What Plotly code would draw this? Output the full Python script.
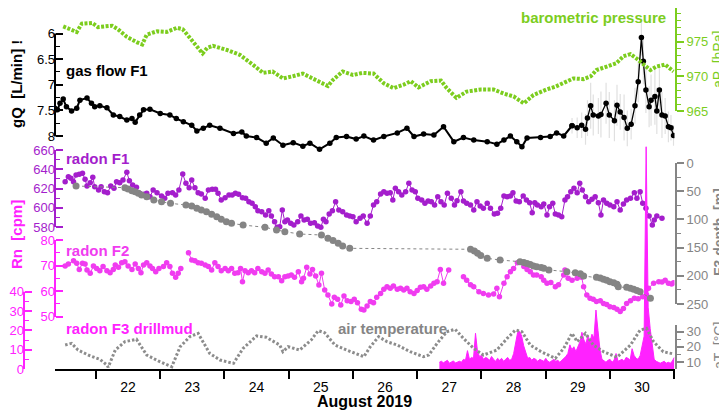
import numpy as np
import plotly.graph_objects as go

# time is given as day of August 2019 (fractional)
baro_t = [21.49, 21.70, 21.78, 21.94, 22.03, 22.25, 22.34, 22.48, 22.64, 22.72,
          22.79, 22.95, 23.10, 23.26, 23.35, 23.49, 23.66, 23.73, 23.82, 24.04,
          24.24, 24.44, 24.60, 24.75, 24.91, 25.06, 25.22, 25.37, 25.61, 25.69,
          25.84, 26.00, 26.15, 26.32, 26.48, 26.63, 26.79, 26.90, 27.02, 27.21,
          27.37, 27.46, 27.61, 27.77, 27.99, 28.19, 28.35, 28.50, 28.66, 28.81,
          29.01, 29.15, 29.28, 29.43, 29.59, 29.70, 29.79, 30.01, 30.10, 30.21,
          30.32, 30.41, 30.55, 30.63, 30.72, 30.86, 30.99]
baro_hpa = [977.2, 976.4, 977.6, 977.7, 977.1, 977.3, 976.8, 975.7, 974.9, 974.6,
            976.0, 976.5, 976.4, 977.0, 976.8, 975.3, 973.3, 974.1, 974.4, 973.8,
            973.1, 971.7, 970.5, 970.7, 969.7, 970.0, 970.4, 969.7, 968.6, 969.5,
            970.7, 970.2, 970.5, 970.4, 969.0, 968.3, 968.8, 969.3, 968.4, 969.3,
            969.4, 968.3, 966.9, 967.8, 968.1, 968.1, 967.5, 967.1, 966.1, 967.3,
            968.1, 968.5, 969.1, 969.7, 969.6, 970.0, 970.9, 971.7, 971.9, 972.9,
            973.2, 972.6, 971.4, 970.9, 971.4, 971.7, 970.7]

# gas flow: steady part (dense readings) and the unsteady last days
gas_t = [21.36, 21.40, 21.44, 21.49, 21.54, 21.62, 21.70, 21.75, 21.86, 21.93,
         21.98, 22.06, 22.17, 22.27, 22.37, 22.48, 22.56, 22.61, 22.68, 22.74,
         22.84, 23.00, 23.15, 23.25, 23.36, 23.49, 23.57, 23.67, 23.77, 23.93,
         24.14, 24.27, 24.34, 24.50, 24.65, 24.76, 24.91, 25.07, 25.22, 25.33,
         25.48, 25.64, 25.74, 25.90, 26.05, 26.17, 26.32, 26.48, 26.69, 26.84,
         26.95, 27.10, 27.26, 27.41, 27.57, 27.72, 27.88, 28.09, 28.24, 28.35,
         28.45, 28.55, 28.63, 28.71, 28.92, 29.07, 29.17, 29.28,
         29.41, 29.49, 29.56, 29.62, 29.65, 29.70, 29.74, 29.82, 29.86, 29.94,
         29.99, 30.07, 30.11, 30.16, 30.22, 30.27, 30.33, 30.39, 30.44, 30.49,
         30.52, 30.56, 30.61, 30.64, 30.70, 30.73, 30.77, 30.81, 30.86, 30.91,
         30.95, 30.99]
gas_lpm = [7.46, 7.49, 7.36, 7.28, 7.43, 7.51, 7.46, 7.30, 7.26, 7.36,
           7.43, 7.41, 7.45, 7.59, 7.62, 7.69, 7.66, 7.73, 7.59, 7.49,
           7.48, 7.56, 7.59, 7.66, 7.72, 7.79, 7.90, 7.85, 7.79, 7.85,
           7.95, 7.92, 8.00, 8.03, 8.14, 8.04, 8.18, 8.13, 8.20, 8.14,
           8.26, 8.14, 8.03, 8.01, 8.06, 8.00, 8.08, 8.01, 7.94, 7.85,
           8.01, 7.96, 7.98, 7.82, 8.11, 8.03, 8.08, 8.11, 8.16, 8.08,
           8.00, 8.11, 8.21, 8.04, 8.03, 8.01, 7.94, 8.00,
           7.80, 7.84, 7.79, 7.87, 7.65, 7.41, 7.59, 7.61, 7.58, 7.36,
           7.59, 7.70, 7.40, 7.53, 7.64, 7.85, 7.77, 7.41, 6.94, 6.08,
           6.54, 7.10, 7.43, 7.30, 7.23, 7.51, 7.10, 7.59, 7.61, 7.82,
           7.84, 7.99]
gas_steady_n = 68  # readings before Aug 29 10:00
# spread (min/max) of the gas flow for the last, unsteady days
gas_spread_late = [0.15, 0.20, 0.25, 0.30, 0.35, 0.45, 0.40, 0.35, 0.45, 0.40,
                   0.45, 0.40, 0.40, 0.35, 0.45, 0.35, 0.30, 0.35, 0.40, 0.35,
                   0.45, 0.45, 0.40, 0.50, 0.55, 0.45, 0.50, 0.45, 0.35, 0.30,
                   0.25, 0.20]

rn1_t = [21.52, 21.57, 21.61, 21.65, 21.69, 21.74, 21.79, 21.83, 21.86, 21.91,
         21.95, 21.98, 22.04, 22.08, 22.13, 22.18, 22.23, 22.28, 22.32, 22.37,
         22.42, 22.48, 22.52, 22.57, 22.63, 22.68, 22.75, 22.79, 22.84, 22.89,
         22.95, 23.02, 23.07, 23.12, 23.19, 23.24, 23.29, 23.35, 23.40, 23.45,
         23.49, 23.54, 23.59, 23.64, 23.70, 23.75, 23.81, 23.86, 23.90, 23.95,
         24.01, 24.07, 24.12, 24.17, 24.22, 24.28, 24.33, 24.38, 24.43, 24.48,
         24.52, 24.58, 24.64, 24.69, 24.73, 24.78, 24.82, 24.86, 24.90, 24.94,
         24.98, 25.03, 25.08, 25.14, 25.19, 25.24, 25.29, 25.34, 25.40, 25.45,
         25.50, 25.54, 25.58, 25.63, 25.68, 25.73, 25.78, 25.84, 25.90, 25.95,
         26.00, 26.05, 26.11, 26.16, 26.22, 26.27, 26.32, 26.37, 26.43, 26.48,
         26.53, 26.58, 26.62, 26.66, 26.71, 26.76, 26.82, 26.87, 26.92, 26.97,
         27.01, 27.07, 27.12, 27.17, 27.22, 27.27, 27.32, 27.37, 27.42, 27.47,
         27.53, 27.58, 27.62, 27.68, 27.72, 27.77, 27.83, 27.88, 27.93, 27.98,
         28.03, 28.09, 28.14, 28.20, 28.25, 28.30, 28.35, 28.40, 28.45, 28.49,
         28.54, 28.59, 28.65, 28.70, 28.75, 28.79, 28.83, 28.87, 28.93, 28.97,
         29.02, 29.06, 29.11, 29.15, 29.20, 29.25, 29.30, 29.34, 29.39, 29.44,
         29.49, 29.53, 29.57, 29.62, 29.67, 29.72, 29.77, 29.82, 29.86, 29.90,
         29.95, 30.00, 30.06, 30.11, 30.16, 30.21, 30.26, 30.32, 30.38, 30.42,
         30.47, 30.51, 30.56, 30.61, 30.66, 30.69, 30.73, 30.81]
rn1_cpm = [627.1, 632.3, 630.6, 627.1, 634.0, 634.7, 635.8, 629.5, 622.6, 626.0,
           631.6, 621.9, 618.4, 621.9, 616.7, 615.6, 622.6, 620.2, 627.1, 626.0,
           628.8, 636.8, 628.1, 623.6, 621.2, 615.0, 614.0, 615.0, 611.5, 618.4,
           615.6, 612.2, 609.8, 615.0, 615.6, 613.2, 618.4, 635.1, 625.4, 620.8,
           628.8, 620.8, 615.6, 614.3, 609.8, 618.4, 619.2, 619.2, 615.0, 608.1,
           610.4, 613.2, 613.2, 615.0, 614.0, 610.4, 609.8, 606.3, 604.6, 601.1,
           596.9, 595.9, 592.5, 596.9, 591.4, 585.5, 579.7, 580.3, 597.7, 585.5,
           587.3, 583.8, 582.1, 585.5, 591.4, 587.3, 588.0, 583.8, 584.5, 581.0,
           579.7, 588.0, 585.5, 593.5, 596.9, 606.3, 597.7, 595.9, 592.5, 591.4,
           590.7, 585.5, 589.0, 591.4, 583.8, 591.4, 602.9, 606.3, 614.3, 616.7,
           615.0, 615.6, 608.1, 620.2, 616.7, 613.2, 616.7, 625.4, 618.4, 616.7,
           609.8, 608.1, 604.6, 607.0, 606.3, 602.9, 611.5, 606.3, 602.9, 615.0,
           609.8, 602.9, 607.3, 616.7, 607.0, 604.6, 602.9, 597.7, 606.3, 601.8,
           599.4, 604.6, 599.4, 593.5, 594.2, 599.4, 612.2, 611.5, 612.2, 615.6,
           607.0, 606.3, 612.2, 608.1, 605.3, 594.9, 605.3, 602.9, 601.1, 603.9,
           592.5, 601.1, 604.6, 593.5, 592.5, 590.7, 608.1, 611.5, 616.7, 620.2,
           615.6, 625.4, 618.4, 611.5, 606.3, 608.8, 611.5, 605.3, 592.5, 608.1,
           604.6, 602.9, 601.1, 606.3, 597.7, 603.9, 608.1, 609.8, 615.6, 609.8,
           616.7, 604.6, 599.4, 591.4, 582.1, 587.3, 591.4, 589.0]

rn2_t = [21.52, 21.57, 21.65, 21.70, 21.74, 21.79, 21.83, 21.86, 21.91, 21.96,
         22.01, 22.06, 22.11, 22.17, 22.22, 22.27, 22.30, 22.35, 22.40, 22.45,
         22.50, 22.56, 22.61, 22.66, 22.70, 22.74, 22.79, 22.84, 22.88, 22.93,
         22.98, 23.05, 23.10, 23.15, 23.19, 23.24, 23.28, 23.32, 23.38,
         23.44, 23.49, 23.54, 23.59, 23.64, 23.70, 23.75, 23.80, 23.85, 23.90,
         23.95, 24.01, 24.06, 24.11, 24.16, 24.21, 24.25, 24.28, 24.32, 24.37,
         24.42, 24.47, 24.52, 24.58, 24.63, 24.68, 24.73, 24.78, 24.84, 24.89,
         24.94, 24.99, 25.04, 25.09, 25.15, 25.20, 25.23, 25.28, 25.33, 25.37,
         25.42, 25.47, 25.51, 25.56, 25.61, 25.67, 25.71, 25.76, 25.81, 25.86,
         25.91, 25.97, 26.02, 26.07, 26.13, 26.17, 26.22, 26.27, 26.32, 26.37,
         26.43, 26.48, 26.53, 26.58, 26.63, 26.69, 26.74, 26.79, 26.84, 26.89,
         26.95, 27.00, 27.05, 27.10, 27.15, 27.21, 27.26, 27.31, 27.36, 27.41,
         27.49, 27.60,
         27.72, 27.77, 27.83, 27.88, 27.96, 28.03, 28.11, 28.19, 28.24, 28.28,
         28.35, 28.40, 28.45, 28.50, 28.56, 28.60, 28.66, 28.71, 28.76, 28.81,
         28.86, 28.93, 28.97, 29.02, 29.08, 29.15, 29.20, 29.28, 29.30, 29.35,
         29.41, 29.49, 29.56, 29.59, 29.64, 29.69, 29.74, 29.79, 29.85, 29.90,
         29.95, 30.00, 30.06, 30.11, 30.16, 30.21, 30.26, 30.32, 30.38, 30.44,
         30.51, 30.57, 30.60, 30.68, 30.76, 30.81, 30.86, 30.91, 30.96, 30.99]
rn2_cpm = [69.8, 70.6, 71.9, 70.9, 68.5, 70.9, 70.6, 68.3, 67.0, 69.8,
           68.9, 68.0, 69.6, 68.0, 67.2, 68.5, 70.2, 69.3, 71.1, 71.5,
           69.8, 68.5, 70.6, 68.9, 67.2, 70.2, 71.1, 69.8, 68.9, 67.6,
           68.9, 69.6, 71.1, 69.6, 67.0, 65.4, 67.0, 68.9, None,
           75.0, 72.2, 71.9, 71.1, 70.9, 70.2, 69.6, 68.3, 71.1, 69.6,
           68.0, 68.9, 68.0, 68.9, 67.0, 67.2, 68.9, 63.7, 68.0, 67.2,
           68.0, 67.2, 68.9, 67.6, 67.0, 68.3, 66.7, 65.6, 65.6, 64.1,
           65.6, 65.9, 66.3, 65.4, 67.6, 63.7, 65.0, 69.3, 66.7, 68.5,
           65.9, 62.4, 67.0, 60.4, 58.5, 55.0, 57.6, 56.8, 54.6, 58.1,
           56.2, 55.9, 56.8, 55.5, 52.9, 52.6, 54.2, 55.9, 55.5, 57.6,
           59.1, 60.7, 61.7, 61.1, 62.0, 60.7, 61.1, 60.4, 61.1, 59.8,
           59.1, 60.2, 61.5, 61.7, 60.7, 62.0, 63.1, 63.7, 68.5, 63.1,
           68.3, None,
           65.6, 64.3, 62.5, 61.7, 59.8, 59.1, 58.5, 58.9, 61.1, 57.8,
           63.1, 65.6, 67.6, 68.9, 71.1, 71.5, 69.6, 68.5, 67.6, 66.3,
           66.3, 65.6, 64.3, 63.1, 63.4, 61.7, 62.5, 66.3, 68.3, 65.0,
           64.3, 65.0, 65.4, 61.7, 58.5, 57.2, 56.8, 55.9, 56.2, 55.2,
           54.8, 53.9, 53.6, 52.9, 52.0, 53.2, 55.2, 56.2, 57.2, 57.0,
           57.8, 58.5, 61.1, 63.1, 63.7, 63.6, 64.3, 63.1, 62.8, 63.3]

depth_t = [21.69, 22.45, 22.50, 22.56, 22.61, 22.66, 22.71, 22.79, 22.90, 23.02,
           23.16, 23.40, 23.49, 23.57, 23.64, 23.72, 23.80, 23.88, 23.95, 24.03,
           24.11, 24.29, 24.63, 24.81, 24.94, 25.17, 25.51, 25.61, 25.69, 25.77,
           25.84, 25.95, 27.83, 27.89, 27.94, 27.99, 28.09, 28.29, 28.60, 28.66,
           28.71, 28.76, 28.81, 28.86, 28.93, 28.97, 29.05, 29.33, 29.46, 29.54,
           29.59, 29.79, 29.85, 29.90, 29.95, 30.00, 30.06, 30.11, 30.13, 30.26,
           30.32, 30.37, 30.42, 30.47, 30.63]
depth_m = [40.8, 43.8, 46.0, 49.1, 51.0, 53.7, 56.7, 59.8, 65.6, 68.6,
           71.5, 74.5, 76.3, 80.4, 83.3, 86.3, 90.7, 95.2, 99.6, 104.1,
           107.0, 110.0, 114.0, 118.8, 121.8, 125.9, 127.7, 133.5, 137.5, 142.4,
           147.2, 151.3, 153.0, 156.0, 160.0, 164.0, 169.0, 172.0, 175.0, 176.5,
           178.0, 180.0, 182.6, 184.0, 185.5, 186.8, 189.7, 192.7, 194.5, 196.5,
           200.4, 202.7, 204.0, 206.0, 208.0, 210.5, 212.5, 215.0, 219.3, 220.4,
           222.0, 224.0, 226.0, 228.2, 239.9]

air_t = [21.52, 21.62, 21.72, 21.91, 22.06, 22.17, 22.19, 22.30, 22.45, 22.63,
         22.79, 22.97, 23.18, 23.31, 23.46, 23.59, 23.77, 23.93, 24.14, 24.29,
         24.50, 24.65, 24.86, 24.91, 24.99, 25.17, 25.35, 25.46, 25.56, 25.72,
         25.90, 26.11, 26.17, 26.27, 26.40, 26.53, 26.69, 26.89, 27.10, 27.18,
         27.31, 27.46, 27.59, 27.72, 27.88, 28.03, 28.24, 28.40, 28.53, 28.63,
         28.76, 28.93, 29.15, 29.28, 29.41, 29.49, 29.62, 29.74, 29.90, 30.11,
         30.32, 30.47, 30.57, 30.68, 30.83, 30.99]
air_degc = [21.2, 22.3, 17.9, 14.0, 11.8, 8.0, 6.5, 17.9, 23.4, 25.0,
            14.6, 10.7, 6.9, 20.1, 26.7, 28.9, 15.7, 11.3, 9.1, 19.0,
            27.2, 26.3, 21.2, 16.8, 20.1, 17.9, 24.5, 30.7, 29.3, 21.2,
            17.9, 14.6, 13.5, 20.1, 26.7, 23.4, 21.2, 16.8, 13.5, 14.6,
            22.3, 30.0, 31.6, 25.6, 19.0, 14.6, 17.9, 25.6, 31.1, 30.0,
            21.2, 16.8, 12.4, 19.0, 28.9, 23.4, 28.9, 21.2, 16.8, 13.1,
            21.2, 31.1, 32.2, 23.4, 16.8, 15.3]

# drill mud radon, one reading every 45 min from Aug 27 08:17
mud_start, mud_step = 27.345, 0.03125
mud_cpm = [3.5, 4.0, 3.2, 3.8, 4.5, 3.0, 3.6, 4.2, 3.1, 3.7,
           4.0, 3.5, 5.0, 4.5, 9.5, 5.0, 6.0, 5.5, 18.5, 9.0,
           6.5, 7.0, 5.0, 6.0, 5.5, 4.5, 6.5, 5.0, 4.0, 5.5,
           4.5, 5.5, 4.0, 5.0, 6.0, 4.5, 5.0, 8.0, 14.0, 19.0,
           19.5, 17.0, 12.0, 8.0, 5.5, 6.0, 4.5, 5.5, 5.0, 4.0,
           5.0, 4.5, 4.0, 5.5, 4.0, 3.5, 4.5, 5.0, 4.0, 4.5,
           3.5, 4.5, 5.0, 6.5, 8.0, 12.5, 10.0, 11.5, 9.0, 12.0,
           14.0, 19.0, 15.0, 13.0, 17.5, 14.0, 18.0, 16.0, 30.5, 20.0,
           10.0, 5.0, 4.0, 3.5, 4.5, 5.0, 3.5, 4.5, 8.0, 4.0,
           4.5, 5.0, 4.0, 6.0, 5.5, 4.5, 10.5, 7.0, 5.5, 5.0,
           7.0, 13.0, 17.0, 115.0, 32.0, 21.0, 12.0, 5.0, 4.0, 3.5,
           3.0, 3.5, 4.0, 3.0, 3.5, 3.0, 4.0, 6.0]
mud_t = mud_start + mud_step * np.arange(len(mud_cpm))

day_edges = list(range(22, 32))
day_mids = [d + 0.5 for d in range(22, 31)]
day_labels = [str(d) for d in range(22, 31)]

# ---------------------------------------------------------------- layout
# positions below are screen pixels of the 727x412 window; the page puts
# the figure 8 px in from the top-left corner, so the figure is made 8 px
# smaller each way and OFF shifts every position.
WIN_W, WIN_H = 727, 412
OFF = 8
W, H = WIN_W - OFF, WIN_H - OFF
BOTTOM = 369          # screen row of the time axis
FONT = "Liberation Sans, Arial, sans-serif"
BLACK = "#000000"
GREEN = "#7ccd1e"
PURPLE = "#a41ecc"
MAGENTA = "#ff22ff"
PINK = "#f03cf0"
GRAY = "#858585"


def px(x):
    return (x - OFF) / W


def py(y):
    return (BOTTOM - y) / (BOTTOM - OFF)


def full_range(v1, y1, v2, y2):
    # value range over the whole plot height from two calibration rows
    k = (v2 - v1) / (y2 - y1)
    return [v1 + (BOTTOM - y1) * k, v1 + (OFF - y1) * k]


def yax(color, rng, xpos, side, ticks, tickvals, minor, overlay=True):
    d = dict(
        range=rng, anchor="free", position=xpos, side=side,
        showline=False, showgrid=False, zeroline=False, automargin=False,
        tickmode="array", tickvals=tickvals, ticks=ticks, ticklen=7,
        tickwidth=1.5, tickcolor=color,
        tickfont=dict(family=FONT, size=13, color=color),
        minor=dict(tickmode="array", tickvals=minor, ticks=ticks, ticklen=4,
                   tickwidth=1.2, tickcolor=color, showgrid=False),
    )
    if overlay:
        d["overlaying"] = "y"
    return d


fig = go.Figure()

n = gas_steady_n
fig.add_trace(go.Scatter(
    x=gas_t[:n + 1], y=gas_lpm[:n + 1], yaxis="y", mode="lines+markers",
    line=dict(color=BLACK, width=2), marker=dict(size=5.5, color=BLACK),
))
fig.add_trace(go.Scatter(
    x=gas_t[n:], y=gas_lpm[n:], yaxis="y", mode="lines+markers",
    line=dict(color=BLACK, width=1.3), marker=dict(size=5.5, color=BLACK),
    error_y=dict(type="data", array=gas_spread_late, color="#e0e0e0",
                 thickness=1.2, width=0),
))
fig.add_trace(go.Scatter(
    x=baro_t, y=baro_hpa, yaxis="y2", mode="lines",
    line=dict(color=GREEN, width=4, dash="3px,1.5px"),
))
fig.add_trace(go.Scatter(
    x=rn1_t, y=rn1_cpm, yaxis="y3", mode="lines+markers",
    line=dict(color=PURPLE, width=1), marker=dict(size=5.5, color=PURPLE),
))
fig.add_trace(go.Scatter(
    x=rn2_t, y=rn2_cpm, yaxis="y4", mode="lines+markers",
    line=dict(color=PINK, width=1), marker=dict(size=5.5, color=PINK),
))
fig.add_trace(go.Scatter(
    x=mud_t, y=mud_cpm, yaxis="y5", mode="lines",
    line=dict(color=MAGENTA, width=1), fill="tozeroy", fillcolor=MAGENTA,
))
fig.add_trace(go.Scatter(
    x=depth_t, y=depth_m, yaxis="y6", mode="lines+markers",
    line=dict(color=GRAY, width=1, dash="dot"), marker=dict(size=7, color=GRAY),
))
fig.add_trace(go.Scatter(
    x=air_t, y=air_degc, yaxis="y7", mode="lines",
    line=dict(color="#8c8c8c", width=3, dash="2.5px,2px"),
))

left, right = px(55), px(676)
fig.update_layout(
    xaxis=dict(
        domain=[px(55), px(674.5)], range=[21.362, 31.005], anchor="y",
        showline=True, linecolor=BLACK, linewidth=1.5,
        showgrid=False, zeroline=False, automargin=False,
        tickmode="array", tickvals=day_mids, ticktext=day_labels,
        ticks="outside", ticklen=4, tickcolor="rgba(0,0,0,0)",
        tickfont=dict(family=FONT, size=14, color=BLACK),
        minor=dict(tickmode="array", tickvals=day_edges, ticks="outside",
                   ticklen=8, tickwidth=1.5, tickcolor=BLACK, showgrid=False),
    ),
    yaxis=yax(BLACK, full_range(6, 33.5, 8, 136), left, "left", "inside",
              [6, 6.5, 7, 7.5, 8], [6.25, 6.75, 7.25, 7.75], overlay=False),
    yaxis2=yax(GREEN, full_range(980, 7, 965, 111), right, "right", "outside",
               [965, 970, 975, 980], [v for v in range(966, 980) if v % 5]),
    yaxis3=yax(PURPLE, full_range(660, 150, 580, 227), left, "left", "inside",
               [580, 600, 620, 640, 660], [590, 610, 630, 650]),
    yaxis4=yax(MAGENTA, full_range(80, 240, 50, 316.7), left, "left", "inside",
               [50, 60, 70, 80], [55, 65, 75]),
    yaxis5=yax(MAGENTA, full_range(0, 369, 40, 291.7), px(24), "left", "inside",
               [0, 10, 20, 30, 40], [5, 15, 25, 35]),
    yaxis6=yax(GRAY, full_range(0, 163, 250, 304), right, "right", "outside",
               [0, 50, 100, 150, 200, 250], [25, 75, 125, 175, 225]),
    yaxis7=yax(GRAY, full_range(30, 331.7, 10, 362), right, "right", "outside",
               [10, 20, 30], [15, 25]),
)

# vertical axis lines, only over the part of the height each axis covers
axis_lines = [(55, 33.5, 136.5, BLACK), (676, 8, 111, GREEN),
              (55, 150, 227, PURPLE), (55, 240, 317, MAGENTA),
              (24, 291.7, 369, MAGENTA), (676, 163, 304, GRAY),
              (676, 325, 369, GRAY)]
for x, y0, y1, c in axis_lines:
    fig.add_shape(type="line", xref="paper", yref="paper",
                  x0=px(x), x1=px(x), y0=py(y0), y1=py(y1),
                  line=dict(color=c, width=2))


def label(text, x, y, color, size=15, bold=True, angle=0, anchor="left"):
    fig.add_annotation(
        text=f"<b>{text}</b>" if bold else text, x=px(x), y=py(y),
        xref="paper", yref="paper", xanchor=anchor, yanchor="middle",
        showarrow=False, textangle=angle,
        font=dict(family=FONT, size=size, color=color),
    )


label("gas flow F1", 64, 70, BLACK)
label("barometric pressure", 519, 18, GREEN)
label("radon F1", 64, 158, PURPLE)
label("radon F2", 64, 250, PINK)
label("radon F3 drillmud", 64, 328, MAGENTA)
label("air temperature", 336, 328, GRAY)
label("August 2019", 364, 401, BLACK, size=16, anchor="center")
label("gQ  [L/min] !", 16, 84, BLACK, angle=-90, anchor="center")
label("aP  [hPa]", 718, 60, GREEN, size=14, bold=False, angle=-90,
      anchor="center")
label("Rn  [cpm]", 16, 235, MAGENTA, angle=-90, anchor="center")
label("F3 depth  [m]", 719, 232, GRAY, size=14, angle=-90, anchor="center")
label("aT  [°C]", 719, 346, GRAY, size=14, bold=False, angle=-90,
      anchor="center")

fig.update_layout(
    width=W, height=H, margin=dict(l=0, r=0, t=0, b=H - (BOTTOM - OFF)),
    paper_bgcolor="white", plot_bgcolor="white", showlegend=False,
    font=dict(family=FONT, size=13),
)

fig.write_html("out.html")
